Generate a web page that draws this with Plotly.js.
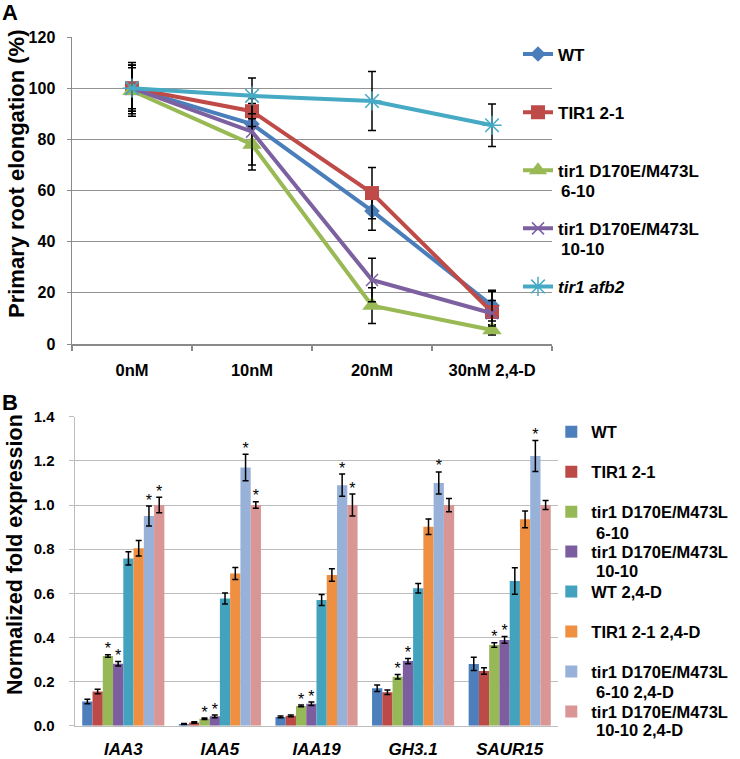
<!DOCTYPE html>
<html><head><meta charset="utf-8">
<script src="https://cdn.plot.ly/plotly-3.0.1.min.js"></script>
<style>html,body{margin:0;padding:0;background:#fff}#chart{width:740px;height:759px}</style>
</head><body><div id="chart"></div>
<script>
// ---------- Panel A data ----------
const conc = ['0nM', '10nM', '20nM', '30nM 2,4-D'];
const seriesA = ['WT', 'TIR1 2-1', 'tir1 D170E/M473L', 'tir1 D170E/M473L', '<i>tir1 afb2</i>'];
const seriesA2 = ['', '', '6-10', '10-10', ''];
const aWT = [100, 86, 52, 15];
const aWTErr = [10, 8, 7.5, 6];
const aTIR = [100, 91, 59, 12.5];
const aTIRErr = [9, 6, 10, 8];
const a610 = [99, 78, 15, 5.5];
const a610Err = [10, 10, 7, 2];
const a1010 = [100, 83, 25, 12];
const a1010Err = [8, 13, 8.5, 5];
const aAFB = [100, 97, 95, 85.5];
const aAFBErr = [9, 7, 11.5, 8.3];

// ---------- Panel B data ----------
const genes = ['IAA3', 'IAA5', 'IAA19', 'GH3.1', 'SAUR15'];
const seriesB = ['WT', 'TIR1 2-1', 'tir1 D170E/M473L', 'tir1 D170E/M473L', 'WT 2,4-D', 'TIR1 2-1 2,4-D', 'tir1 D170E/M473L', 'tir1 D170E/M473L'];
const seriesB2 = ['', '', '6-10', '10-10', '', '', '6-10 2,4-D', '10-10 2,4-D'];
const bWT = [0.11, 0.008, 0.04, 0.17, 0.28];
const bWTErr = [0.01, 0.002, 0.004, 0.015, 0.03];
const bTIR = [0.155, 0.015, 0.045, 0.152, 0.248];
const bTIRErr = [0.01, 0.003, 0.004, 0.01, 0.015];
const b610 = [0.316, 0.032, 0.09, 0.222, 0.366];
const b610Err = [0.006, 0.003, 0.004, 0.01, 0.01];
const b1010 = [0.281, 0.043, 0.1, 0.293, 0.389];
const b1010Err = [0.01, 0.006, 0.008, 0.012, 0.015];
const bWTD = [0.758, 0.577, 0.57, 0.623, 0.656];
const bWTDErr = [0.03, 0.025, 0.025, 0.022, 0.06];
const bTIRD = [0.804, 0.69, 0.683, 0.902, 0.935];
const bTIRDErr = [0.035, 0.027, 0.028, 0.035, 0.038];
const b610D = [0.95, 1.17, 1.09, 1.10, 1.222];
const b610DErr = [0.045, 0.06, 0.05, 0.05, 0.07];
const b1010D = [1.0, 1.0, 1.0, 1.0, 1.0];
const b1010DErr = [0.035, 0.015, 0.05, 0.03, 0.02];
const sigWT = [0, 0, 0, 0, 0];
const sigTIR = [0, 0, 0, 0, 0];
const sig610 = [1, 1, 1, 1, 1];
const sig1010 = [1, 1, 1, 1, 1];
const sigWTD = [0, 0, 0, 0, 0];
const sigTIRD = [0, 0, 0, 0, 0];
const sig610D = [1, 1, 1, 1, 1];
const sig1010D = [1, 1, 1, 0, 0];

const FONT = 'Liberation Sans, Arial, Helvetica, sans-serif';
const lineColors = ['#4A7EBB', '#BE4B48', '#98B954', '#7D60A0', '#46AAC5'];
const barColors = ['#4C7FBC', '#BC4A46', '#97B857', '#7C5EA0', '#43A3BE', '#EE8F41', '#97B1D8', '#D99694'];

const aVals = [aWT, aTIR, a610, a1010, aAFB];
const aErrs = [aWTErr, aTIRErr, a610Err, a1010Err, aAFBErr];
const aMarkers = [
  {symbol: 'diamond', size: 12},
  {symbol: 'square', size: 14},
  {symbol: 'triangle-up', size: 17},
  {symbol: 'x-thin-open', size: 12, line: {width: 1.5}},
  {symbol: 'asterisk-open', size: 16, line: {width: 1.5}}
];

const traces = [];
aVals.forEach((v, k) => {
  const m = Object.assign({color: lineColors[k]}, aMarkers[k]);
  if (m.line) m.line.color = lineColors[k];
  traces.push({
    type: 'scatter', mode: 'lines+markers', x: conc, y: v, name: seriesA[k],
    xaxis: 'x', yaxis: 'y', legend: 'legend', legendgroup: 'a' + k,
    line: {color: lineColors[k], width: 4}, marker: m,
    error_y: {type: 'data', array: aErrs[k], visible: true, color: '#000', thickness: 1.5, width: 4}
  });
});

const bVals = [bWT, bTIR, b610, b1010, bWTD, bTIRD, b610D, b1010D];
const bErrs = [bWTErr, bTIRErr, b610Err, b1010Err, bWTDErr, bTIRDErr, b610DErr, b1010DErr];
const bSig = [sigWT, sigTIR, sig610, sig1010, sigWTD, sigTIRD, sig610D, sig1010D];
const gx = genes.map((g, i) => i);
const BARGAP = 0.15;
const N = bVals.length;
const bw = (1 - BARGAP) / N;

bVals.forEach((v, k) => {
  traces.push({
    type: 'bar', x: gx, y: v, name: seriesB[k], xaxis: 'x2', yaxis: 'y2',
    legend: 'legend2', legendgroup: 'b' + k,
    marker: {color: barColors[k]},
    error_y: {type: 'data', array: bErrs[k], visible: true, color: '#000', thickness: 1.5, width: 3}
  });
});

// significance asterisks
const sx = [], sy = [];
bVals.forEach((v, k) => {
  v.forEach((val, i) => {
    if (bSig[k][i]) {
      sx.push(i - (1 - BARGAP) / 2 + (k + 0.5) * bw);
      sy.push(val + bErrs[k][i] + 0.02);
    }
  });
});
traces.push({
  type: 'scatter', mode: 'text', x: sx, y: sy, text: sx.map(() => '*'),
  textposition: 'middle center', textfont: {family: FONT, size: 16, color: '#000'},
  xaxis: 'x2', yaxis: 'y2', showlegend: false, hoverinfo: 'skip'
});

const W = 740, H = 759;
const LEGA_X = 0.700, LEGB_X = 0.745;
const legFont = {family: FONT, size: 17, color: '#000', weight: 'bold'};
const legFontB = {family: FONT, size: 16.5, color: '#000', weight: 'bold'};

const annotations = [
  {text: '<b>A</b>', xref: 'paper', yref: 'paper', x: 10 / W, y: 1 - 12 / H, showarrow: false, font: {size: 22}, xanchor: 'center', yanchor: 'middle'},
  {text: '<b>B</b>', xref: 'paper', yref: 'paper', x: 10 / W, y: 1 - 402 / H, showarrow: false, font: {size: 22}, xanchor: 'center', yanchor: 'middle'},
  {text: '<b>Primary root elongation (%)</b>', xref: 'paper', yref: 'paper', x: 16 / W, y: 1 - 174 / H, textangle: -90, showarrow: false, font: {size: 22}, xanchor: 'center', yanchor: 'middle'},
  {text: '<b>Normalized fold expression</b>', xref: 'paper', yref: 'paper', x: 15 / W, y: 1 - 555 / H, textangle: -90, showarrow: false, font: {size: 21.5}, xanchor: 'center', yanchor: 'middle'}
];
// second lines of wrapped legend labels
const secA = [null, null, 191, 249.5, null];
seriesA2.forEach((t, k) => {
  if (t) annotations.push({text: '<b>' + t + '</b>', xref: 'paper', yref: 'paper', x: 559 / W, y: 1 - secA[k] / H, showarrow: false, font: legFont, xanchor: 'left', yanchor: 'middle'});
});
const secB = [null, null, 533, 571, null, null, 692, 730];
seriesB2.forEach((t, k) => {
  if (t) annotations.push({text: '<b>' + t + '</b>', xref: 'paper', yref: 'paper', x: 594 / W, y: 1 - secB[k] / H, showarrow: false, font: legFontB, xanchor: 'left', yanchor: 'middle'});
});

const layout = {
  width: W, height: H, margin: {l: 0, r: 0, t: 0, b: 0},
  paper_bgcolor: '#fff', plot_bgcolor: '#fff',
  font: {family: FONT, color: '#000'},
  barmode: 'group', bargap: BARGAP, bargroupgap: 0,
  xaxis: {
    domain: [72 / W, 552 / W], anchor: 'y', type: 'category', categoryorder: 'array', categoryarray: conc,
    tickson: 'boundaries', ticks: 'outside', ticklen: 5, tickwidth: 1.5, tickcolor: '#8A8A8A',
    showline: true, linecolor: '#8A8A8A', linewidth: 1.5, showgrid: false, zeroline: false,
    tickfont: {family: FONT, size: 16.5, color: '#000', weight: 'bold'}, ticklabelstandoff: 11,
    range: [-0.5, 3.5], fixedrange: true
  },
  yaxis: {
    domain: [1 - 344 / H, 1 - 37 / H], anchor: 'x', range: [0, 120], dtick: 20, tick0: 0,
    ticks: 'outside', ticklen: 4, tickcolor: '#8A8A8A', showline: true, linecolor: '#8A8A8A', linewidth: 1.5,
    showgrid: true, gridcolor: '#939393', gridwidth: 1, zeroline: false,
    tickfont: {family: FONT, size: 16, color: '#000', weight: 'bold'}, ticklabelstandoff: 8
  },
  xaxis2: {
    domain: [75 / W, 558 / W], anchor: 'y2', range: [-0.5, 4.5], tickvals: gx, ticktext: genes,
    ticks: '', showline: true, linecolor: '#BDBDBD', linewidth: 1.5, showgrid: false, zeroline: false,
    tickfont: {family: FONT, size: 17, color: '#000', weight: 'bold', style: 'italic'}, ticklabelstandoff: 7
  },
  yaxis2: {
    domain: [1 - 725.8 / H, 1 - 416.7 / H], anchor: 'x2', range: [0, 1.4], dtick: 0.2, tick0: 0, tickformat: '.1f',
    ticks: 'outside', ticklen: 5, tickcolor: '#BDBDBD', showline: true, linecolor: '#BDBDBD', linewidth: 1.5,
    showgrid: true, gridcolor: '#BDBDBD', gridwidth: 1, zeroline: false,
    tickfont: {family: FONT, size: 15, color: '#000', weight: 'bold'}, ticklabelstandoff: 11
  },
  legend: {
    x: LEGA_X, xanchor: 'left', y: 1 - 36.5 / H, yanchor: 'top', valign: 'middle',
    font: legFont, tracegroupgap: 33, traceorder: 'grouped',
    bgcolor: 'rgba(0,0,0,0)'
  },
  legend2: {
    x: LEGB_X, xanchor: 'left', y: 1 - 414.5 / H, yanchor: 'top', valign: 'middle', itemwidth: 30,
    font: legFontB, tracegroupgap: 15.5, traceorder: 'grouped',
    bgcolor: 'rgba(0,0,0,0)'
  },
  annotations: annotations
};

Plotly.newPlot('chart', traces, layout, {displayModeBar: false, staticPlot: true});
</script></body></html>
